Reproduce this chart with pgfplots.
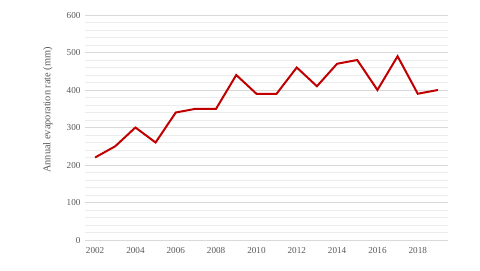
\documentclass[border=0pt]{standalone}
\usepackage{pgfplots}
\pgfplotsset{compat=1.18}
\usepackage{fontspec}
\setmainfont{Liberation Serif}
\definecolor{linered}{RGB}{192,0,0}
\definecolor{majgrid}{RGB}{217,217,217}
\definecolor{mingrid}{RGB}{236,236,236}
\definecolor{txt}{RGB}{89,89,89}
\begin{document}
\begin{tikzpicture}[x=1bp,y=1bp]
\path[use as bounding box] (0,0) rectangle (480,270);
\begin{axis}[
  at={(85bp,30bp)}, anchor=south west,
  scale only axis, width=363bp, height=225bp,
  xmin=2001.5, xmax=2019.5, ymin=0, ymax=600,
  xtick={2002,2004,...,2018},
  ytick={0,100,...,600},
  minor y tick num=4,
  axis line style={draw=none},
  tick style={draw=none},
  ymajorgrids, yminorgrids,
  major grid style={majgrid, line width=0.9bp},
  minor grid style={mingrid, line width=0.7bp},
  xticklabel style={/pgf/number format/1000 sep={}},
  /pgf/number format/assume math mode=true,
  ticklabel style={font=\fontsize{9.2}{10}\selectfont, text=txt},
  xticklabel style={yshift=-4bp},
  yticklabel style={xshift=-1bp},
  ylabel={Annual evaporation rate (mm)},
  ylabel style={font=\fontsize{10.4}{12}\selectfont, text=txt,
    at={(axis description cs:-0.102,0.578)}, anchor=center, rotate=0},
]
\addplot[linered, line width=2bp, mark=none] coordinates {
(2002,220) (2003,250) (2004,300) (2005,260) (2006,340) (2007,350)
(2008,350) (2009,440) (2010,390) (2011,390) (2012,460) (2013,410)
(2014,470) (2015,480) (2016,400) (2017,490) (2018,390) (2019,400)
};
\end{axis}
\end{tikzpicture}
\end{document}
